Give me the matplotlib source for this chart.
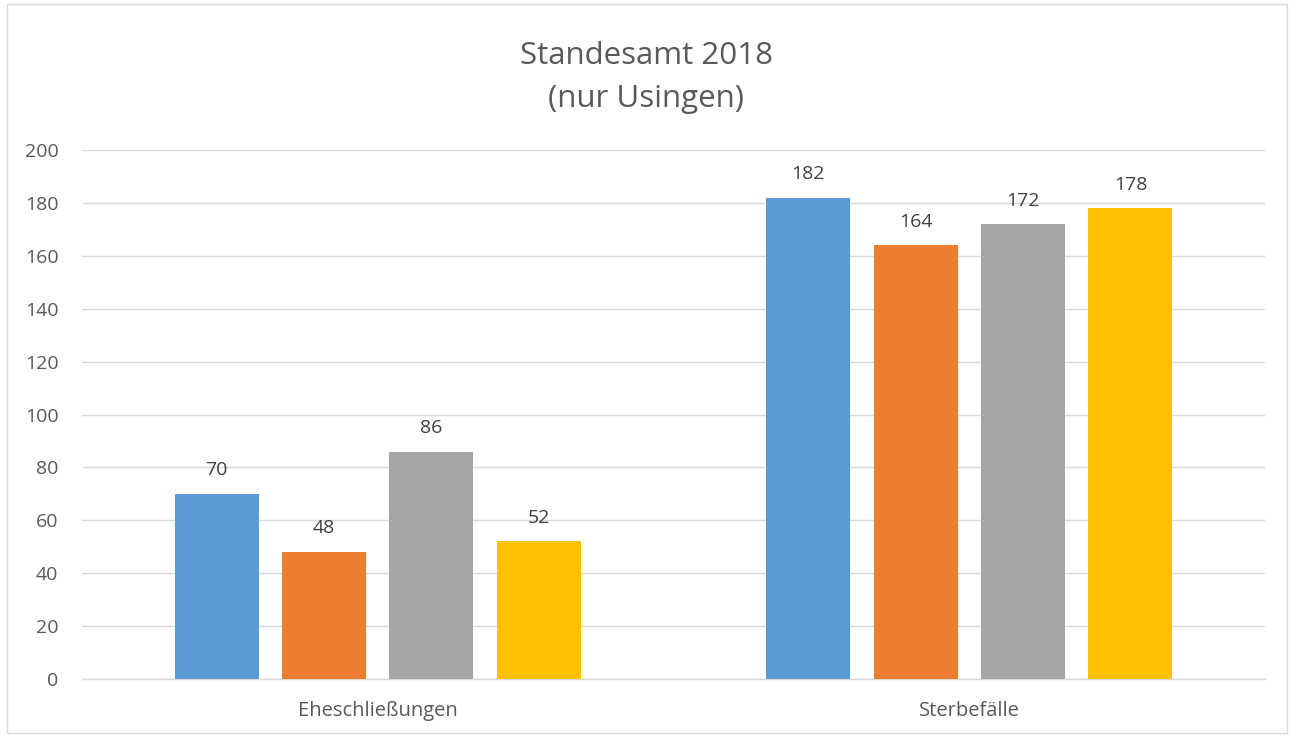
import matplotlib.pyplot as plt
import numpy as np

plt.rcParams['font.family'] = ['Open Sans', 'DejaVu Sans']

categories = ["Eheschließungen", "Sterbefälle"]
series_values = [
    [70, 182],
    [48, 164],
    [86, 172],
    [52, 178],
]
colors = ['#5B9BD5', '#ED7D31', '#A5A5A5', '#FFC000']
text_color = '#595959'

fig = plt.figure(figsize=(12.93, 7.37), dpi=100)
ax = fig.add_axes([82 / 1293, 58 / 737, 1183 / 1293, 529 / 737])

x = np.arange(len(categories))
width = 0.142
step = 0.1817
for i, vals in enumerate(series_values):
    offs = (i - 1.5) * step
    bars = ax.bar(x + offs, vals, width, color=colors[i], zorder=3)
    for b, v in zip(bars, vals):
        ax.text(b.get_x() + b.get_width() / 2, v + 5.5, str(v), ha='center', va='bottom',
                fontsize=14, color='#404040')

ax.set_xlim(-0.5, 1.5)
ax.set_ylim(0, 200)
ax.set_yticks(range(0, 201, 20))
ax.set_xticks(x)
ax.set_xticklabels(categories)
ax.tick_params(axis='both', length=0, labelsize=14, labelcolor=text_color)
ax.tick_params(axis='x', labelsize=14.5, pad=16)
ax.tick_params(axis='y', pad=17)
ax.grid(axis='y', color='#D9D9D9', linewidth=1, zorder=0)
for s in ['top', 'right', 'left']:
    ax.spines[s].set_visible(False)
ax.spines['bottom'].set_color('#D9D9D9')
ax.spines['bottom'].set_linewidth(1)

fig.text(0.5, 0.895, "Standesamt 2018\n(nur Usingen)", ha='center', va='center',
         fontsize=22.5, color=text_color, linespacing=1.55)

fig.patches.append(plt.Rectangle((0.0055, 0.005), 0.99, 0.99, transform=fig.transFigure,
                                 fill=False, edgecolor='#D9D9D9', linewidth=1))

fig.savefig('out.png', dpi=100)
